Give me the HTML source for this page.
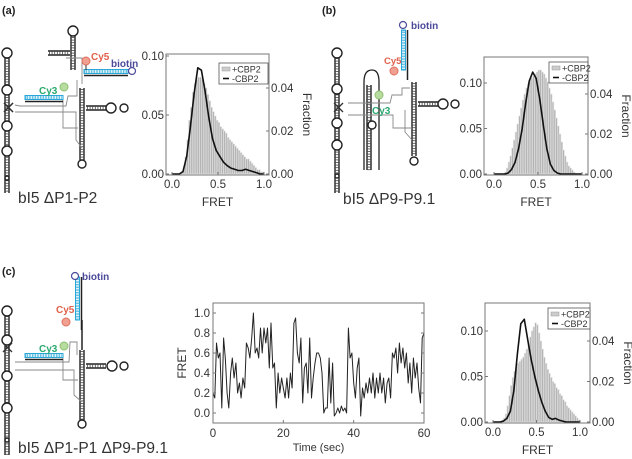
<!DOCTYPE html>
<html><head><meta charset="utf-8"><style>
body{margin:0;background:#fff;}
svg{display:block;font-family:"Liberation Sans",sans-serif;}
</style></head><body>
<svg id="fig" width="632" height="459" viewBox="0 0 632 459"></svg>
<script>
// ---- chart data ----
const binCenters = [];
for (let i = 0; i < 50; i++) binCenters.push(0.01 + i * 0.02);
const curveX = [];
for (let i = 0; i < 26; i++) curveX.push(i * 0.04);

const barsA = [0,0,0,0,0,0.001,0.003,0.008,0.016,0.025,0.031,0.038,0.042,0.044,0.045,0.045,0.044,0.042,0.04,0.037,0.034,0.031,0.029,0.027,0.025,0.024,0.022,0.021,0.02,0.019,0.017,0.016,0.015,0.014,0.013,0.012,0.011,0.01,0.009,0.008,0.007,0.007,0.006,0.005,0.004,0.003,0.002,0.002,0.001,0.001];
const curveA = [0,0,0,0.002,0.015,0.04,0.068,0.09,0.088,0.07,0.048,0.03,0.02,0.015,0.01,0.007,0.005,0.004,0.003,0.003,0.004,0.003,0.002,0.001,0,0];
const barsB = [0,0,0,0,0,0,0.001,0.003,0.006,0.009,0.013,0.017,0.021,0.025,0.029,0.033,0.037,0.040,0.043,0.045,0.047,0.048,0.049,0.050,0.051,0.052,0.052,0.051,0.050,0.048,0.046,0.043,0.040,0.036,0.032,0.028,0.024,0.020,0.016,0.012,0.009,0.006,0.004,0.003,0.002,0.001,0,0,0,0];
const curveB = [0,0,0,0,0.001,0.005,0.013,0.028,0.05,0.078,0.102,0.112,0.105,0.082,0.054,0.028,0.011,0.004,0.001,0,0,0,0,0,0,0];
const barsC = [0,0,0,0,0,0.001,0.002,0.004,0.008,0.013,0.018,0.022,0.025,0.027,0.029,0.030,0.031,0.032,0.034,0.036,0.039,0.042,0.045,0.047,0.049,0.048,0.044,0.040,0.036,0.032,0.029,0.026,0.024,0.022,0.020,0.019,0.017,0.016,0.014,0.013,0.011,0.010,0.008,0.007,0.006,0.005,0.004,0.003,0.002,0.001];
const curveC = [0,0,0,0.001,0.004,0.012,0.035,0.075,0.108,0.113,0.09,0.068,0.05,0.035,0.022,0.012,0.005,0.003,0.004,0.002,0.001,0,0,0,0,0];
const leftTicks = ["0.00","0.05","0.10"];
const rightTicks = ["0.00","0.02","0.04"];
const xTicks = ["0.0","0.5","1.0"];

const traceFRET = [0.2,0.15,0.7,0.55,0.6,0.05,0.75,0.55,0.2,0.05,0.4,0.55,0.35,0.5,0.2,0.3,0.15,0.35,0.25,0.7,0.65,0.55,0.75,1.0,0.6,0.65,0.55,0.85,0.6,0.85,0.7,0.85,0.45,0.9,0.45,0.5,0.05,0.4,0.2,0.35,0.25,0.15,0.35,0.15,0.4,0.25,0.9,0.95,0.6,0.5,0.75,0.1,0.45,0.5,0.2,0.75,0.15,0.35,0.5,0.6,0.6,0.55,0.4,0.0,0.05,0.05,0.55,0.1,0.5,-0.03,0.0,0.05,0.0,0.07,0.02,0.05,0.0,0.85,0.55,0.6,0.3,0.15,0.45,0.55,-0.03,0.25,0.15,0.3,0.2,0.35,0.2,0.4,0.15,0.35,0.2,0.4,0.2,0.35,0.1,0.3,0.35,0.15,0.6,0.55,0.65,0.4,0.7,0.5,0.65,0.45,0.6,0.3,0.5,0.2,0.55,0.35,0.5,0.25,0.1,0.75,0.8];
const traceYTicks = ["0.0","0.2","0.4","0.6","0.8","1.0"];
const traceXTicks = ["0","20","40","60"];

// ---- helpers ----
const NS = "http://www.w3.org/2000/svg";
const svg = document.getElementById("fig");
function mk(tag, attrs, parent) {
  const e = document.createElementNS(NS, tag);
  for (const k in attrs) e.setAttribute(k, attrs[k]);
  (parent || svg).appendChild(e);
  return e;
}
function txt(s, x, y, size, color, anchor, parent, weight) {
  const t = mk("text", {x: x, y: y, "font-size": size, fill: color || "#222", "text-anchor": anchor || "start", "font-weight": weight || "normal"}, parent);
  t.textContent = s;
  return t;
}

function histogram(name, box, x0, x1, ly0, ly10, ry0, ry04, bars, curve, legend) {
  const g = mk("g", {});
  
  
  const xs = v => x0 + v * (x1 - x0);
  const yl = v => ly0 - v * (ly0 - ly10) / 0.10;
  const yr = v => ry0 - v * (ry0 - ry04) / 0.04;
  const bw = xs(0.02) - xs(0);
  for (let i = 0; i < bars.length; i++) {
    if (bars[i] <= 0) continue;
    const r = mk("rect", {x: xs(binCenters[i]) - bw / 2, y: yr(bars[i]), width: bw, height: ry0 - yr(bars[i]), fill: "#b4b4b4", stroke: "#e4e4e4", "stroke-width": 0.6}, g);
    
    
  }
  let d = "";
  for (let i = 0; i < curve.length; i++) d += (i ? "L" : "M") + xs(curveX[i]).toFixed(1) + " " + yl(curve[i]).toFixed(1);
  const p = mk("path", {d: d, fill: "none", stroke: "#111", "stroke-width": 1.6, "stroke-linejoin": "round"}, g);
  
  
  const fr = mk("rect", {x: box.l, y: box.t, width: box.r - box.l, height: box.b - box.t, fill: "none", stroke: "#777", "stroke-width": 1}, g);
  
  
  for (let i = 0; i < leftTicks.length; i++) {
    const y = yl(parseFloat(leftTicks[i]));
    mk("line", {x1: box.l, x2: box.l + 3, y1: y, y2: y, stroke: "#777"}, g);
    const t = txt(leftTicks[i], box.l - 2, y + 4, 11.5, "#333", "end", g);
    
    
  }
  for (let i = 0; i < rightTicks.length; i++) {
    const y = yr(parseFloat(rightTicks[i]));
    mk("line", {x1: box.r - 3, x2: box.r, y1: y, y2: y, stroke: "#777"}, g);
    const t = txt(rightTicks[i], box.r + 2, y + 4, 11.5, "#333", "start", g);
    
    
  }
  for (let i = 0; i < xTicks.length; i++) {
    const x = xs(parseFloat(xTicks[i]));
    mk("line", {x1: x, x2: x, y1: box.b - 3, y2: box.b, stroke: "#777"}, g);
    const t = txt(xTicks[i], x, box.b + 13, 11.5, "#333", "middle", g);
    
    
  }
  const xt = txt("FRET", (box.l + box.r) / 2, box.b + 31, 12, "#333", "middle", g);
  
  
  const cy = (box.t + box.b) / 2;
  const rt = txt("Fraction", box.r + 34, cy, 12, "#333", "middle", g);
  rt.setAttribute("transform", "rotate(90 " + (box.r + 34) + " " + cy + ")");
  
  
  const lg = mk("g", {}, g);
  
  
  mk("rect", {x: legend.x, y: legend.y, width: legend.w, height: 21, fill: "#fff", stroke: "#555", "stroke-width": 0.8}, lg);
  mk("rect", {x: legend.x + 3, y: legend.y + 4, width: 8, height: 4, fill: "#ccc", stroke: "#999", "stroke-width": 0.5}, lg);
  txt("+CBP2", legend.x + 13, legend.y + 9.5, 9, "#333", "start", lg);
  mk("line", {x1: legend.x + 4, x2: legend.x + 10, y1: legend.y + 15.5, y2: legend.y + 15.5, stroke: "#111", "stroke-width": 1.6}, lg);
  txt("-CBP2", legend.x + 13, legend.y + 19, 9, "#333", "start", lg);
}

histogram("histogram-a", {l:166,r:269,t:54,b:175}, 172, 264, 174, 56, 174, 88, barsA, curveA, {x:219,y:63,w:49});
histogram("histogram-b", {l:484,r:588,t:57,b:175}, 494, 582, 174, 83, 174, 94, barsB, curveB, {x:549,y:62,w:39});
histogram("histogram-c", {l:485,r:590,t:303,b:423}, 493, 580, 422, 331, 422, 341, barsC, curveC, {x:548,y:308,w:42});

// ---- time trace ----
(function () {
  const box = {l:213, r:424, t:303, b:423};
  const g = mk("g", {});
  
  
  const xs = t => box.l + t / 60 * (box.r - box.l);
  const ys = v => 413 - v * 100;
  let d = "";
  for (let i = 0; i < traceFRET.length; i++) d += (i ? "L" : "M") + xs(i * 0.5).toFixed(1) + " " + ys(traceFRET[i]).toFixed(1);
  const p = mk("path", {d: d, fill: "none", stroke: "#222", "stroke-width": 1, "stroke-linejoin": "round"}, g);
  
  
  const fr = mk("rect", {x: box.l, y: box.t, width: box.r - box.l, height: box.b - box.t, fill: "none", stroke: "#777"}, g);
  
  
  for (let i = 0; i < traceYTicks.length; i++) {
    const y = ys(parseFloat(traceYTicks[i]));
    mk("line", {x1: box.l, x2: box.l + 3, y1: y, y2: y, stroke: "#777"}, g);
    mk("line", {x1: box.r - 3, x2: box.r, y1: y, y2: y, stroke: "#777"}, g);
    const t = txt(traceYTicks[i], box.l - 3, y + 4, 11.5, "#333", "end", g);
    
    
  }
  for (let i = 0; i < traceXTicks.length; i++) {
    const x = xs(parseFloat(traceXTicks[i]));
    mk("line", {x1: x, x2: x, y1: box.b - 3, y2: box.b, stroke: "#777"}, g);
    const t = txt(traceXTicks[i], x, box.b + 14, 11.5, "#333", "middle", g);
    
    
  }
  const xt = txt("Time (sec)", (box.l + box.r) / 2, 451, 11, "#333", "middle", g);
  
  
  const yt = txt("FRET", 186, 363, 12, "#333", "middle", g);
  yt.setAttribute("transform", "rotate(-90 186 363)");
  
  
})();

// ---- RNA structure drawings ----
function ladderV(g, x, y1, y2) {
  mk("line", {x1: x - 2, x2: x - 2, y1: y1, y2: y2, stroke: "#222", "stroke-width": 1.4}, g);
  mk("line", {x1: x + 2, x2: x + 2, y1: y1, y2: y2, stroke: "#222", "stroke-width": 1.4}, g);
  for (let y = y1 + 1.5; y < y2; y += 2.6) mk("line", {x1: x - 2, x2: x + 2, y1: y, y2: y, stroke: "#444", "stroke-width": 0.8}, g);
}
function ladderH(g, y, x1, x2, col) {
  const c = col || "#222";
  mk("line", {x1: x1, x2: x2, y1: y - 2, y2: y - 2, stroke: c, "stroke-width": 1.4}, g);
  mk("line", {x1: x1, x2: x2, y1: y + 2, y2: y + 2, stroke: c, "stroke-width": 1.4}, g);
  for (let x = x1 + 1.5; x < x2; x += 2.6) mk("line", {x1: x, x2: x, y1: y - 2, y2: y + 2, stroke: "#444", "stroke-width": 0.8}, g);
}
function loop(g, x, y, r) { mk("circle", {cx: x, cy: y, r: r, fill: "#fff", stroke: "#222", "stroke-width": 1.4}, g); }
function cyanBarH(g, y, x1, x2) {
  mk("rect", {x: x1, y: y - 2.5, width: x2 - x1, height: 4, fill: "none", stroke: "#29a8d8", "stroke-width": 1}, g);
  for (let x = x1 + 1; x < x2; x += 1.6) mk("line", {x1: x, x2: x, y1: y - 2.5, y2: y + 1.5, stroke: "#29a8d8", "stroke-width": 0.7}, g);
  mk("line", {x1: x1, x2: x2, y1: y + 3.5, y2: y + 3.5, stroke: "#222", "stroke-width": 1.5}, g);
}
function cyanBarV(g, x, y1, y2) {
  mk("rect", {x: x - 2.5, y: y1, width: 4, height: y2 - y1, fill: "none", stroke: "#29a8d8", "stroke-width": 1}, g);
  for (let y = y1 + 1; y < y2; y += 1.6) mk("line", {x1: x - 2.5, x2: x + 1.5, y1: y, y2: y, stroke: "#29a8d8", "stroke-width": 0.7}, g);
  mk("line", {x1: x + 3.5, x2: x + 3.5, y1: y1, y2: y2 + 10, stroke: "#222", "stroke-width": 1.5}, g);
}
function gray(g, pts) { mk("polyline", {points: pts, fill: "none", stroke: "#888", "stroke-width": 0.9}, g); }
function dye(g, x, y, fillc, strokec) { mk("circle", {cx: x, cy: y, r: 4, fill: fillc, stroke: strokec, "stroke-width": 1}, g); }

function leftStem(g, ox, oy, top, bottom, loops) {
  ladderV(g, ox, top, bottom);
  for (const l of loops) loop(g, ox, l, 5);
  loop(g, ox, top - 4, 5);
  mk("path", {d: "M" + (ox - 3) + " " + (oy + 103) + " L" + (ox + 6) + " " + (oy + 112) + " M" + (ox - 3) + " " + (oy + 112) + " L" + (ox + 6) + " " + (oy + 103), stroke: "#333", "stroke-width": 1.3, fill: "none"}, g);
}

// Panel a
(function () {
  const g = mk("g", {});
  
  
  leftStem(g, 7, 0, 57, 193, [90, 126, 151]);
  loop(g, 7, 178, 2);
  loop(g, 73, 31, 5);
  ladderV(g, 73, 36, 70);
  ladderH(g, 53, 48, 70);
  ladderV(g, 82, 88, 160);
  loop(g, 82, 164, 4);
  ladderH(g, 108, 86, 106);
  loop(g, 111, 108, 5);
  loop(g, 124, 108, 4);
  gray(g, "66,58 82,58 82,84");
  gray(g, "15,105 20,106 66,106 68,96 77,96 77,80");
  gray(g, "15,112 76,112 76,140 82,148");
  gray(g, "63,98 63,128 78,128");
  cyanBarH(g, 72, 84, 128);
  mk("circle", {cx: 132, cy: 71, r: 3.5, fill: "#fff", stroke: "#4b4a9a", "stroke-width": 1.2}, g);
  dye(g, 86, 61, "#f0a090", "#e07060");
  mk("line", {x1: 86, x2: 86, y1: 65, y2: 70, stroke: "#333"}, g);
  dye(g, 64, 87, "#b8dca0", "#8cc070");
  cyanBarH(g, 98, 25, 63);
  const c5 = txt("Cy5", 91, 60, 10, "#e0604a", "start", g, "bold");
   
  const bt = txt("biotin", 111, 67, 10, "#4b4a9a", "start", g, "bold");
   
  const c3 = txt("Cy3", 39, 94, 10, "#2aa870", "start", g, "bold");
   
  const nm = txt("bI5 \u0394P1-P2", 18, 203, 15.5, "#333", "start", g);
   
})();

// Panel b
(function () {
  const g = mk("g", {});
  
  
  leftStem(g, 337, 0, 57, 193, [89, 123, 145]);
  loop(g, 337, 176, 2);
  mk("path", {d: "M364 170 L364 82 Q364 70 372 70 Q379 70 379 82 L379 170", fill: "none", stroke: "#222", "stroke-width": 1.3}, g);
  ladderV(g, 369, 85, 170);
  ladderV(g, 414, 82, 156);
  loop(g, 414, 161, 4);
  loop(g, 372, 125, 4);
  ladderH(g, 104, 418, 438);
  loop(g, 443, 104, 5);
  loop(g, 455, 104, 4);
  gray(g, "348,103 390,103 392,95 402,95 402,88 410,88");
  gray(g, "348,115 393,115 393,128 412,128");
  gray(g, "405,110 405,132 412,140");
  cyanBarV(g, 404, 30, 70);
  mk("circle", {cx: 403, cy: 25, r: 3.5, fill: "#fff", stroke: "#4b4a9a", "stroke-width": 1.2}, g);
  dye(g, 394, 71, "#f0a090", "#e07060");
  dye(g, 379, 95, "#b8dca0", "#8cc070");
  const c5 = txt("Cy5", 384, 64, 9.5, "#e0604a", "start", g, "bold");
   
  const bt = txt("biotin", 411, 29, 10, "#4b4a9a", "start", g, "bold");
   
  const c3 = txt("Cy3", 372, 114, 10, "#2aa870", "start", g, "bold");
   
  const nm = txt("bI5 \u0394P9-P9.1", 343, 204, 15.5, "#333", "start", g);
   
})();

// Panel c
(function () {
  const g = mk("g", {});
  
  
  leftStem(g, 7, 0, 315, 455, [340, 376, 408]);
  loop(g, 7, 440, 2);
  mk("path", {d: "M3 343 L12 352 M3 352 L12 343", stroke: "#333", "stroke-width": 1.3}, g);
  ladderV(g, 82, 350, 420);
  loop(g, 82, 424, 4);
  mk("line", {x1: 82, x2: 82, y1: 320, y2: 350, stroke: "#222", "stroke-width": 1.5}, g);
  ladderH(g, 366, 86, 106);
  loop(g, 112, 366, 5);
  loop(g, 124, 366, 4);
  gray(g, "15,362 69,362 70,342 77,342 77,355");
  gray(g, "15,370 74,370 74,395 82,402");
  gray(g, "63,357 63,380 78,380");
  cyanBarV(g, 78, 277, 320);
  mk("circle", {cx: 75, cy: 276, r: 3.5, fill: "#fff", stroke: "#4b4a9a", "stroke-width": 1.2}, g);
  dye(g, 66, 322, "#f0a090", "#e07060");
  dye(g, 64, 346, "#b8dca0", "#8cc070");
  cyanBarH(g, 356, 25, 63);
  const c5 = txt("Cy5", 56, 313, 10, "#e0604a", "start", g, "bold");
   
  const bt = txt("biotin", 82, 280, 10, "#4b4a9a", "start", g, "bold");
   
  const c3 = txt("Cy3", 39, 352, 10, "#2aa870", "start", g, "bold");
   
  const nm = txt("bI5 \u0394P1-P1 \u0394P9-P9.1", 18, 453, 15.5, "#333", "start", g);
   
})();

// Panel labels
const la = txt("(a)", 2, 14, 11, "#222", "start", null, "bold");


const lb = txt("(b)", 322, 14, 11, "#222", "start", null, "bold");


const lc = txt("(c)", 2, 275, 11, "#222", "start", null, "bold");


</script>
</body></html>
